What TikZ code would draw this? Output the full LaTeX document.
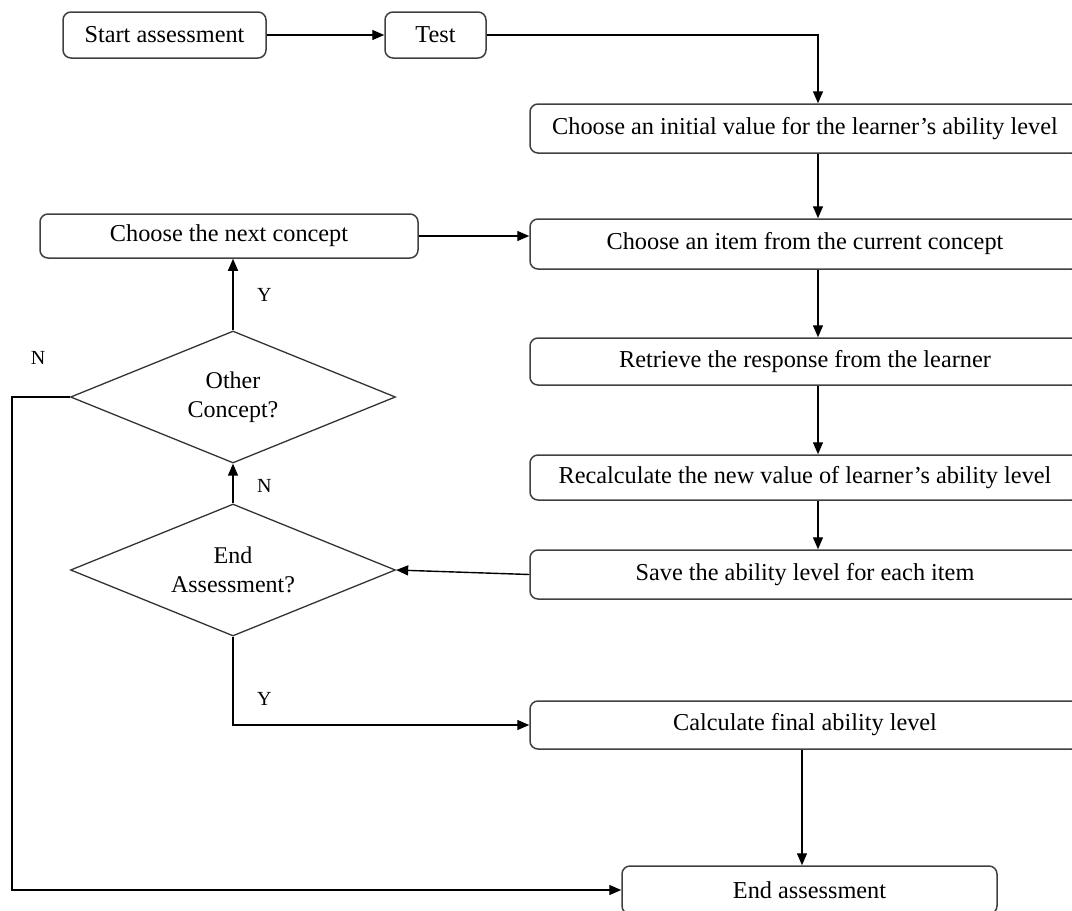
\documentclass[tikz,border=0pt]{standalone}
\usepackage{fontspec}
\setmainfont{Liberation Serif}
\usetikzlibrary{shapes.geometric,arrows.meta}

\begin{document}
\begin{tikzpicture}[x=1pt, y=-1pt,
  proc/.style={rectangle, rounded corners=8pt, draw=black!75, line width=1.5pt, inner sep=0pt, font=\fontsize{24.3}{27}\selectfont},
  dec/.style={diamond, aspect=2.46, draw=black!80, line width=1.3pt, minimum width=325pt, minimum height=132pt, inner sep=0pt, align=center, font=\fontsize{24}{29}\selectfont},
  lbl/.style={font=\fontsize{20}{20}\selectfont},
  flow/.style={-{Triangle[length=12pt,width=10pt]}, line width=1.4pt}]
\useasboundingbox (0,0) rectangle (1072,911);
\clip (0,0) rectangle (1072,911);
% top row
\node (start) at (164.5, 35) [proc, minimum width=203pt, minimum height=46pt] {Start assessment};
\node (test) at (435.5, 35) [proc, minimum width=101pt, minimum height=46pt] {Test};
% right column
\node (init) at (805, 128.5) [proc, minimum width=550pt, minimum height=49pt] {Choose an initial value for the learner’s ability level};
\node (item) at (805, 244) [proc, minimum width=550pt, minimum height=50pt] {Choose an item from the current concept};
\node (resp) at (805, 361.5) [proc, minimum width=550pt, minimum height=47pt] {Retrieve the response from the learner};
\node (recalc) at (805, 477.5) [proc, minimum width=550pt, minimum height=45pt] {Recalculate the new value of learner’s ability level};
\node (save) at (805, 574.5) [proc, minimum width=550pt, minimum height=49pt] {Save the ability level for each item};
\node (final) at (805, 725) [proc, minimum width=550pt, minimum height=48pt] {Calculate final ability level};
\node (endbox) at (809.5, 890) [proc, minimum width=375pt, minimum height=48pt] {End assessment};
% left column
\node (next) at (229, 236) [proc, minimum width=378pt, minimum height=44pt] {Choose the next concept};
\node (other) at (233, 397) [dec] {Other\\Concept?};
\node (enddec) at (233, 570) [dec] {End\\Assessment?};
\coordinate (col) at (818, 0);
\coordinate (col2) at (802, 0);
\coordinate (nturn) at (12, 0);
\draw [flow] (start) -- (test);
\draw [flow] (test.east) -| (init.north -| col);
\draw [flow] (init.south -| col) -- (item.north -| col);
\draw [flow] (item.south -| col) -- (resp.north -| col);
\draw [flow] (resp.south -| col) -- (recalc.north -| col);
\draw [flow] (recalc.south -| col) -- (save.north -| col);
\draw [flow] (save.west) -- (enddec.east);
\draw [flow] (enddec.north) -- (other.south) node [lbl, pos=0.45, right=20pt] {N};
\draw [flow] (other.north) -- (other.north |- next.south) node [lbl, midway, right=20pt] {Y};
\draw [flow] (next) -- (next -| item.west);
\draw [flow] (other.west) -- (other.west -| nturn) |- (endbox.west);
\node at (38, 358) [lbl] {N};
\draw [flow] (enddec.south) |- (final.west) node [lbl, pos=0.35, right=20pt] {Y};
\draw [flow] (final.south -| col2) -- (endbox.north -| col2);
\end{tikzpicture}
\end{document}
